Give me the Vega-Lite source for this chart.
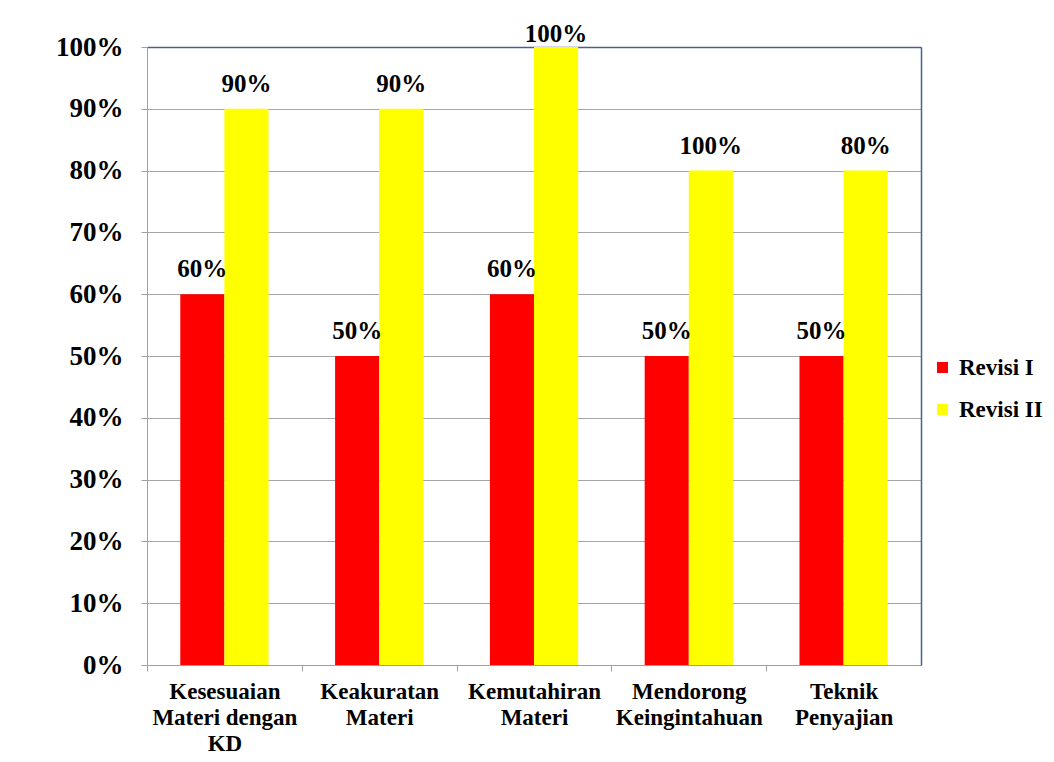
{
  "$schema": "https://vega.github.io/schema/vega-lite/v6.json",
  "width": 774,
  "height": 618,
  "autosize": "none",
  "padding": {"left": 147, "top": 47, "right": 133, "bottom": 97},
  "background": "white",
  "config": {
    "view": {"stroke": null},
    "font": "Liberation Serif",
    "text": {"font": "Liberation Serif"},
    "axis": {
      "labelFont": "Liberation Serif",
      "labelFontWeight": "bold",
      "labelColor": "#000000",
      "domainColor": "#a0a0a0",
      "tickColor": "#a0a0a0",
      "gridColor": "#a6a6a6",
      "title": null
    }
  },
  "data": {
    "values": [
      {"kategori": "Kesesuaian Materi dengan KD", "seri": "Revisi I", "nilai": 0.6, "label": "60%"},
      {"kategori": "Kesesuaian Materi dengan KD", "seri": "Revisi II", "nilai": 0.9, "label": "90%"},
      {"kategori": "Keakuratan Materi", "seri": "Revisi I", "nilai": 0.5, "label": "50%"},
      {"kategori": "Keakuratan Materi", "seri": "Revisi II", "nilai": 0.9, "label": "90%"},
      {"kategori": "Kemutahiran Materi", "seri": "Revisi I", "nilai": 0.6, "label": "60%"},
      {"kategori": "Kemutahiran Materi", "seri": "Revisi II", "nilai": 1.0, "label": "100%"},
      {"kategori": "Mendorong Keingintahuan", "seri": "Revisi I", "nilai": 0.5, "label": "50%"},
      {"kategori": "Mendorong Keingintahuan", "seri": "Revisi II", "nilai": 0.8, "label": "100%"},
      {"kategori": "Teknik Penyajian", "seri": "Revisi I", "nilai": 0.5, "label": "50%"},
      {"kategori": "Teknik Penyajian", "seri": "Revisi II", "nilai": 0.8, "label": "80%"}
    ]
  },
  "resolve": {"axis": {"x": "independent", "y": "independent"}},
  "layer": [
    {
      "mark": {"type": "bar"},
      "encoding": {
        "x": {
          "field": "kategori",
          "type": "nominal",
          "sort": null,
          "scale": {"paddingInner": 0.43, "paddingOuter": 0.215},
          "axis": {
            "orient": "bottom",
            "labelAngle": 0,
            "labelFontSize": 23,
            "labelLineHeight": 26,
            "labelPadding": 9,
            "labelBaseline": "top",
            "tickSize": 6,
            "tickOffset": -77.4,
            "labelOffset": 77.4,
            "labelExpr": "datum.value == 'Kesesuaian Materi dengan KD' ? ['Kesesuaian', 'Materi dengan', 'KD'] : datum.value == 'Keakuratan Materi' ? ['Keakuratan', 'Materi'] : datum.value == 'Kemutahiran Materi' ? ['Kemutahiran', 'Materi'] : datum.value == 'Mendorong Keingintahuan' ? ['Mendorong', 'Keingintahuan'] : ['Teknik', 'Penyajian']"
          }
        },
        "xOffset": {"field": "seri", "type": "nominal", "sort": ["Revisi I", "Revisi II"]},
        "y": {
          "field": "nilai",
          "type": "quantitative",
          "scale": {"domain": [0, 1], "nice": false},
          "axis": {
            "orient": "left",
            "values": [0, 0.1, 0.2, 0.3, 0.4, 0.5, 0.6, 0.7, 0.8, 0.9, 1.0],
            "format": ".0%",
            "labelFontSize": 27,
            "labelPadding": 18,
            "tickSize": 6,
            "grid": true
          }
        },
        "color": {
          "field": "seri",
          "type": "nominal",
          "scale": {"domain": ["Revisi I", "Revisi II"], "range": ["#ff0000", "#ffff00"]},
          "legend": {
            "orient": "none",
            "legendX": 784,
            "legendY": 309,
            "title": null,
            "symbolType": "square",
            "symbolSize": 121,
            "symbolStrokeWidth": 0,
            "labelFont": "Liberation Serif",
            "labelFontWeight": "bold",
            "labelFontSize": 23,
            "labelColor": "#000000",
            "rowPadding": 18,
            "labelOffset": 5
          }
        }
      }
    },
    {
      "transform": [{"filter": "datum.nilai < 1"}],
      "mark": {"type": "text", "dy": -17, "baseline": "alphabetic", "fontSize": 25, "fontWeight": "bold", "font": "Times New Roman", "color": "#000000"},
      "encoding": {
        "x": {
          "field": "kategori",
          "type": "nominal",
          "sort": null,
          "axis": {"orient": "top", "labels": false, "ticks": false, "domainColor": "#4a5f8f", "domainWidth": 1.5}
        },
        "xOffset": {"field": "seri", "type": "nominal", "sort": ["Revisi I", "Revisi II"]},
        "y": {
          "field": "nilai",
          "type": "quantitative",
          "axis": {"orient": "right", "labels": false, "ticks": false, "grid": false, "domainColor": "#4a5f8f", "domainWidth": 1.5}
        },
        "text": {"field": "label"}
      }
    },
    {
      "transform": [{"filter": "datum.nilai >= 1"}],
      "mark": {"type": "text", "dy": -5, "baseline": "alphabetic", "fontSize": 25, "fontWeight": "bold", "font": "Times New Roman", "color": "#000000"},
      "encoding": {
        "x": {"field": "kategori", "type": "nominal", "sort": null, "axis": null},
        "xOffset": {"field": "seri", "type": "nominal", "sort": ["Revisi I", "Revisi II"]},
        "y": {"field": "nilai", "type": "quantitative", "axis": null},
        "text": {"field": "label"}
      }
    }
  ]
}
